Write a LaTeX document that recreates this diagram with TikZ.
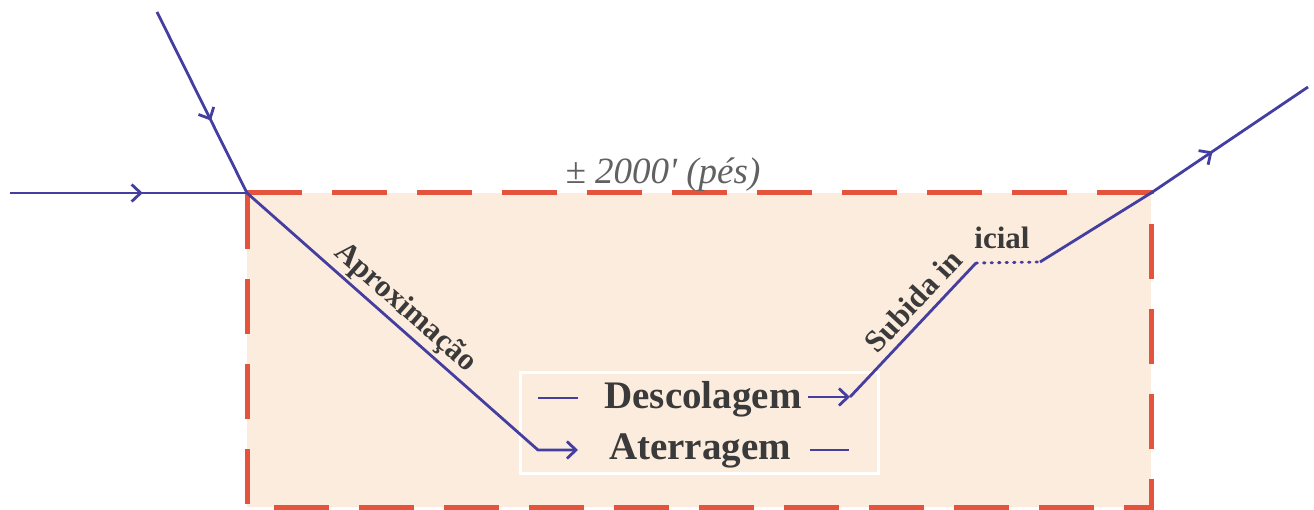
\documentclass[tikz,border=0pt]{standalone}
\usepackage{fontspec}
\setmainfont{Liberation Serif}
\usetikzlibrary{arrows.meta,decorations.markings}
\definecolor{flowblue}{RGB}{68,62,160}
\definecolor{zonered}{RGB}{228,84,60}
\definecolor{zonefill}{RGB}{252,236,221}
\definecolor{txtgray}{RGB}{58,58,58}
\tikzset{
  flow/.style={draw=flowblue,line width=2.8pt,line join=round},
  midarrow/.style={postaction={decorate},decoration={markings,mark=at position #1 with {\arrow[flowblue,line width=2.8pt]{Straight Barb[length=9pt,width=17pt]}}}},
  tiparrow/.style={-{Straight Barb[length=9pt,width=17pt]}},
  zone/.style={draw=zonered,line width=5pt,dash pattern=on 55pt off 30pt,fill=zonefill},
  lbl/.style={font=\bfseries\fontsize{31}{31}\selectfont,text=txtgray,inner sep=0pt},
  biglbl/.style={font=\bfseries\fontsize{39}{39}\selectfont,text=txtgray,inner sep=0pt},
  hgt/.style={font=\itshape\fontsize{37}{37}\selectfont,text=txtgray!80,inner sep=0pt},
}
\begin{document}
\begin{tikzpicture}[x=1pt,y=-1pt]
\useasboundingbox (0,0) rectangle (1314,510);
% zone
\draw[zone] (247,193) coordinate (TL) -- (1151,193) coordinate (TR) -- (1151,507) coordinate (BR) -- (247,507) coordinate (BL) -- cycle;
% white frame
\draw[white,line width=3pt] (520,372) rectangle (878,473);
% coordinates
\coordinate (inL) at (10,193);
\coordinate (inT) at (157,12);
\coordinate (appEnd) at (538,450);
\coordinate (depStart) at (850,397);
\coordinate (climbTop) at (976,263);
\coordinate (dotEnd) at (1040,262);
\coordinate (outEnd) at (1308,87);
% text nodes
\node[biglbl] (desc) at (703,399) {Descolagem};
\node[biglbl] (ater) at (700,451) {Aterragem};
\node[hgt] (alt) at (663,175) {± 2000\textquotesingle{} (pés)};
\node[lbl,rotate=-41.5] (aprox) at (405,308) {Aproximação};
\node[lbl,rotate=47.2] (sub) at (913,301) {Subida in};
\node[lbl] (icial) at (1002,238) {icial};
% incoming flows
\draw[flow,midarrow=0.56] (inL) -- (TL);
\draw[flow,midarrow=0.60] (inT) -- (TL);
% approach
\draw[flow,tiparrow] (TL) -- (appEnd) -- ++(40,0) coordinate (appTip);
\draw[flow] (810,450) coordinate (aterDash) -- ++(39,0);
% departure
\draw[flow] (538,398) coordinate (descDash) -- ++(40,0);
\draw[flow,tiparrow] (808,397) coordinate (descArr) -- (depStart);
\draw[flow] (depStart) -- (climbTop);
\draw[flow,line cap=round,dash pattern=on 1.5pt off 6pt] (climbTop) -- (dotEnd);
\draw[flow,midarrow=0.64] (dotEnd) -- (TR) -- (outEnd);
\end{tikzpicture}
\end{document}
